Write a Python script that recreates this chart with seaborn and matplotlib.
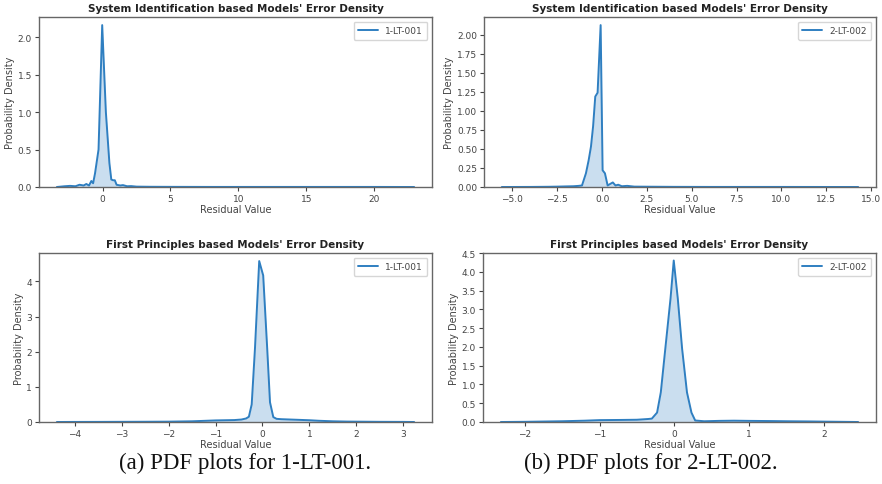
import numpy as np
import pandas as pd
import matplotlib
matplotlib.use("Agg")
import matplotlib.pyplot as plt
import seaborn as sns

# Residual density curves (x = residual value, y = probability density)
si_001_x = [-3.37, -2.8, -2.4, -2.0, -1.7, -1.4, -1.2, -1.0, -0.83, -0.7, -0.56, -0.30, -0.03,
            0.24, 0.50, 0.64, 0.77, 0.9, 1.03, 1.3, 1.5, 1.8, 2.1, 2.5, 3.5, 5.0, 8.0, 12.0,
            16.0, 20.0, 22.95]
si_001_y = [0.0, 0.01, 0.015, 0.01, 0.03, 0.02, 0.04, 0.02, 0.08, 0.05, 0.18, 0.50, 2.16,
            1.00, 0.32, 0.10, 0.09, 0.09, 0.03, 0.02, 0.025, 0.01, 0.012, 0.005, 0.003, 0.002,
            0.001, 0.001, 0.001, 0.001, 0.0]

si_002_x = [-5.59, -4.0, -3.0, -2.5, -2.0, -1.6, -1.3, -1.12, -0.9, -0.75, -0.62, -0.5, -0.38,
            -0.25, -0.08, 0.03, 0.16, 0.31, 0.45, 0.6, 0.75, 0.9, 1.1, 1.4, 1.8, 2.5, 4.0, 6.0,
            10.0, 14.28]
si_002_y = [0.0, 0.001, 0.003, 0.005, 0.008, 0.01, 0.015, 0.02, 0.18, 0.35, 0.53, 0.80, 1.19,
            1.24, 2.13, 0.22, 0.18, 0.02, 0.04, 0.06, 0.02, 0.03, 0.01, 0.015, 0.005, 0.004,
            0.002, 0.001, 0.001, 0.0]

fp_001_x = [-4.38, -4.0, -3.5, -3.0, -2.5, -2.0, -1.5, -1.2, -1.0, -0.8, -0.6, -0.45, -0.35,
            -0.29, -0.23, -0.16, -0.07, 0.015, 0.10, 0.16, 0.23, 0.3, 0.4, 0.6, 0.8, 1.0, 1.2,
            1.5, 1.8, 2.0, 2.5, 3.0, 3.23]
fp_001_y = [0.0, 0.002, 0.003, 0.005, 0.007, 0.01, 0.02, 0.035, 0.045, 0.05, 0.055, 0.07, 0.10,
            0.15, 0.50, 2.10, 4.58, 4.17, 2.10, 0.56, 0.14, 0.09, 0.08, 0.07, 0.06, 0.05, 0.035,
            0.02, 0.012, 0.01, 0.005, 0.003, 0.0]

fp_002_x = [-2.32, -2.0, -1.5, -1.2, -1.0, -0.7, -0.5, -0.35, -0.3, -0.23, -0.18, -0.12, -0.05,
            -0.007, 0.047, 0.105, 0.17, 0.23, 0.28, 0.4, 0.6, 0.8, 1.0, 1.3, 1.5, 1.8, 2.0,
            2.46]
fp_002_y = [0.0, 0.005, 0.02, 0.035, 0.05, 0.055, 0.06, 0.08, 0.09, 0.25, 0.79, 1.95, 3.29,
            4.30, 3.29, 1.95, 0.79, 0.25, 0.04, 0.02, 0.03, 0.035, 0.03, 0.025, 0.02, 0.015,
            0.01, 0.0]

sensor_a = "1-LT-001"
sensor_b = "2-LT-002"
title_si = "System Identification based Models' Error Density"
title_fp = "First Principles based Models' Error Density"
captions = ["(a) PDF plots for 1-LT-001.", "(b) PDF plots for 2-LT-002."]

sns.set_style("white")
plt.rcParams["font.family"] = ["DejaVu Sans"]
plt.rcParams["axes.linewidth"] = 1.0

color = "#2f7fc1"

fig = plt.figure(figsize=(8.82, 4.85), dpi=100)
W, H = 882, 485


def make_axes(left, top, right, bottom):
    return fig.add_axes([left / W, 1 - bottom / H, (right - left) / W, (bottom - top) / H])


panels = [
    (make_axes(39, 18, 432, 188), si_001_x, si_001_y, sensor_a, title_si,
     [0, 5, 10, 15, 20], None),
    (make_axes(484, 18, 876, 188), si_002_x, si_002_y, sensor_b, title_si,
     [-5.0, -2.5, 0.0, 2.5, 5.0, 7.5, 10.0, 12.5, 15.0], None),
    (make_axes(39, 254, 432, 423), fp_001_x, fp_001_y, sensor_a, title_fp,
     [-4, -3, -2, -1, 0, 1, 2, 3], None),
    (make_axes(483, 254, 876, 423), fp_002_x, fp_002_y, sensor_b, title_fp,
     [-2, -1, 0, 1, 2], 4.5),
]

for ax, xs, ys, name, title, xticks, ytop in panels:
    df = pd.DataFrame({"Residual Value": xs, "Probability Density": ys})
    sns.lineplot(data=df, x="Residual Value", y="Probability Density", ax=ax,
                 color=color, linewidth=1.4, label=name, estimator=None, sort=False)
    ax.fill_between(df["Residual Value"], df["Probability Density"], color=color, alpha=0.25,
                    linewidth=0)
    span = max(xs) - min(xs)
    ax.set_xlim(min(xs) - 0.05 * span, max(xs) + 0.05 * span)
    if ytop is None:
        ax.set_ylim(0, max(ys) * 1.05)
    else:
        ax.set_ylim(0, ytop)
        ax.set_yticks(np.arange(0, ytop + 0.01, 0.5))
        ax.set_yticklabels([f"{v:.1f}" for v in np.arange(0, ytop + 0.01, 0.5)])
    ax.set_xticks(xticks)
    ax.set_title(title, fontsize=7.5, fontweight="bold", pad=4, color="#222222")
    ax.set_xlabel("Residual Value", fontsize=7, color="#444444", labelpad=1)
    ax.set_ylabel("Probability Density", fontsize=7, color="#444444", labelpad=2)
    ax.tick_params(axis="both", labelsize=6.5, colors="#444444", length=3, width=0.8,
                   direction="out", bottom=True, left=True, pad=2)
    for s in ax.spines.values():
        s.set_color("#666666")
    leg = ax.legend(loc="upper right", fontsize=6.5, frameon=True, handlelength=2.2,
                    borderpad=0.5)
    leg.get_frame().set_edgecolor("#cccccc")
    for t in leg.get_texts():
        t.set_color("#444444")

fig.text(245 / W, 1 - 463 / H, captions[0], ha="center", va="center", fontsize=16.5,
         family="Liberation Serif", color="#111111")
fig.text(651 / W, 1 - 463 / H, captions[1], ha="center", va="center", fontsize=16.5,
         family="Liberation Serif", color="#111111")

fig.savefig("out.png", dpi=100, facecolor="white")
